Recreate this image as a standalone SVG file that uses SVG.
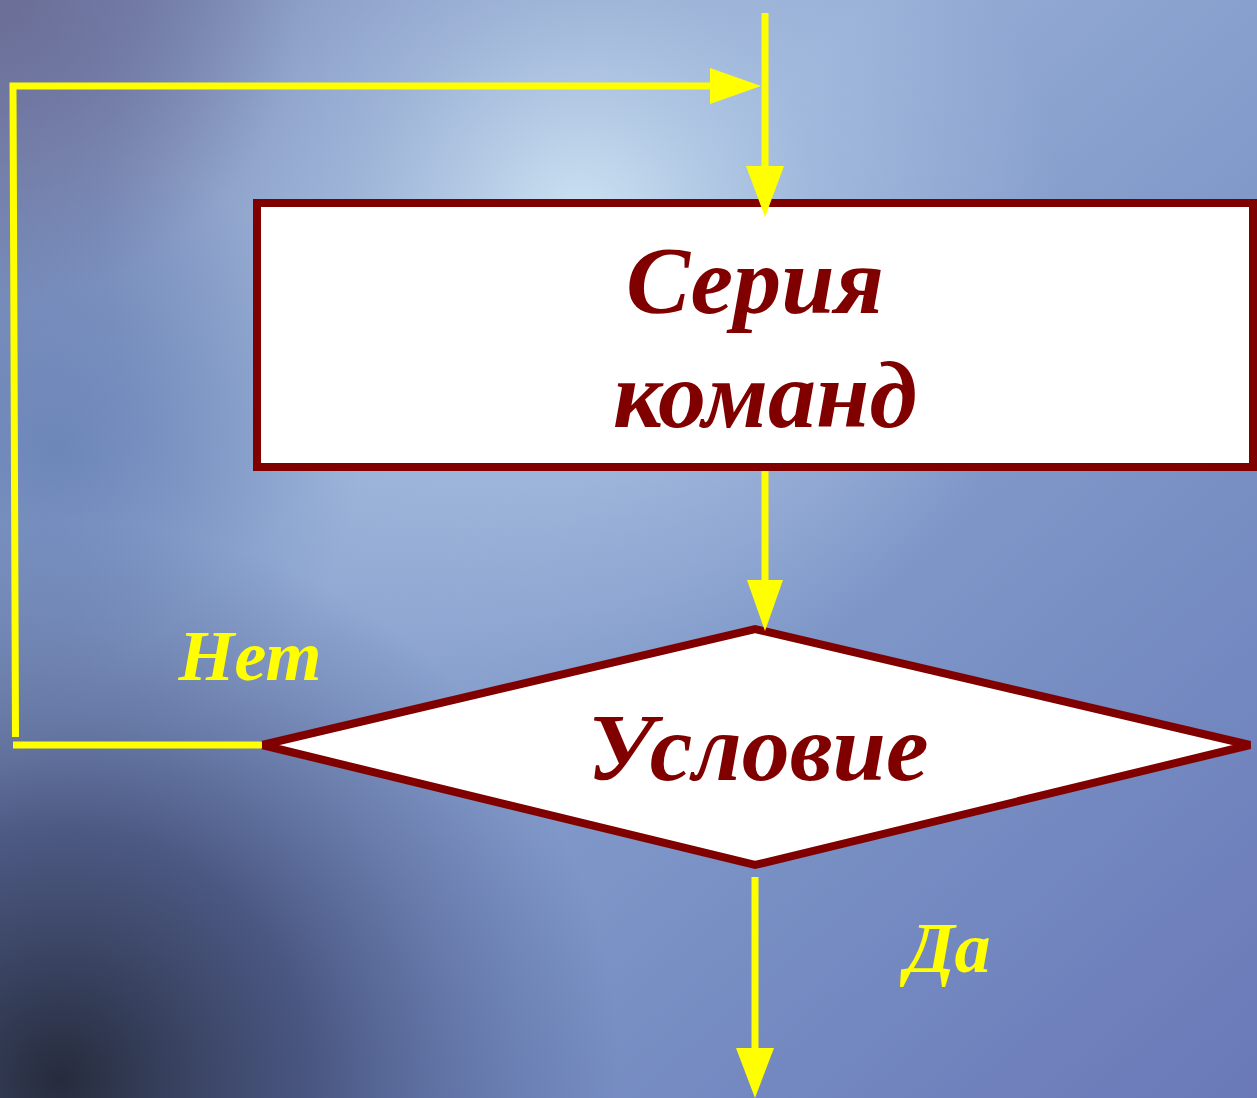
<svg xmlns="http://www.w3.org/2000/svg" width="1257" height="1098" viewBox="0 0 1257 1098">
<style>
.box{fill:#ffffff;stroke:#800000;stroke-width:8}
.conn{stroke:#ffff00;stroke-width:7;fill:none}
.head{fill:#ffff00}
.t{font-family:"Liberation Serif","Times New Roman",serif;font-weight:bold;font-style:italic}
.node{fill:#800000;font-size:96px}
.lbl{fill:#ffff00;font-size:72px}
</style>
<defs>
<linearGradient id="bg" x1="0" y1="0" x2="1" y2="1">
<stop offset="0" stop-color="#7482b0"/>
<stop offset="0.35" stop-color="#94acd4"/>
<stop offset="0.7" stop-color="#7890c4"/>
<stop offset="1" stop-color="#6a78b8"/>
</linearGradient>
<radialGradient id="hl" cx="580" cy="220" r="480" gradientUnits="userSpaceOnUse">
<stop offset="0" stop-color="#d0e6f4" stop-opacity="0.95"/>
<stop offset="0.5" stop-color="#b0c8e6" stop-opacity="0.5"/>
<stop offset="1" stop-color="#b0c8e6" stop-opacity="0"/>
</radialGradient>
<radialGradient id="dk" cx="60" cy="1080" r="560" gradientUnits="userSpaceOnUse">
<stop offset="0" stop-color="#262c3c" stop-opacity="1"/>
<stop offset="0.45" stop-color="#3c4670" stop-opacity="0.8"/>
<stop offset="1" stop-color="#4a5890" stop-opacity="0"/>
</radialGradient>
<radialGradient id="dk2" cx="0" cy="0" r="300" gradientUnits="userSpaceOnUse">
<stop offset="0" stop-color="#6a6c94" stop-opacity="0.9"/>
<stop offset="1" stop-color="#6a6c94" stop-opacity="0"/>
</radialGradient>
<radialGradient id="lm" cx="60" cy="450" r="300" gradientUnits="userSpaceOnUse">
<stop offset="0" stop-color="#5a78b0" stop-opacity="0.6"/>
<stop offset="1" stop-color="#5a78b0" stop-opacity="0"/>
</radialGradient>
</defs>
<rect x="0" y="0" width="1257" height="1098" fill="url(#bg)"/>
<rect x="0" y="0" width="1257" height="1098" fill="url(#hl)"/>
<rect x="0" y="0" width="1257" height="1098" fill="url(#lm)"/>
<rect x="0" y="0" width="1257" height="1098" fill="url(#dk)"/>
<rect x="0" y="0" width="1257" height="1098" fill="url(#dk2)"/>

<g id="node-series">
<rect class="box" x="257" y="203" width="996" height="264"/>
<text class="t node" x="755" y="313" text-anchor="middle">Серия</text>
<text class="t node" x="765" y="427" text-anchor="middle">команд</text>
</g>

<g id="node-condition">
<polygon class="box" points="262,745 755,629 1250,745 755,865" stroke-linejoin="miter"/>
<text class="t node" x="758" y="780" text-anchor="middle">Условие</text>
</g>

<g id="connectors">
<line class="conn" x1="765" y1="13" x2="765" y2="170"/>
<polygon class="head" points="746,166 784,166 765,217"/>
<polyline class="conn" points="15.5,737 13,86 712,86"/>
<polygon class="head" points="710,68 761,86 710,104"/>
<line class="conn" x1="765" y1="471" x2="765" y2="584"/>
<polygon class="head" points="747,580 783,580 765,631"/>
<line class="conn" x1="13" y1="745" x2="262" y2="745"/>
<line class="conn" x1="755" y1="877" x2="755" y2="1052"/>
<polygon class="head" points="736,1048 774,1048 755,1098"/>
</g>

<g id="labels">
<text class="t lbl" x="250" y="680" text-anchor="middle">Нет</text>
<text class="t lbl" x="948" y="972" text-anchor="middle">Да</text>
</g>
</svg>
